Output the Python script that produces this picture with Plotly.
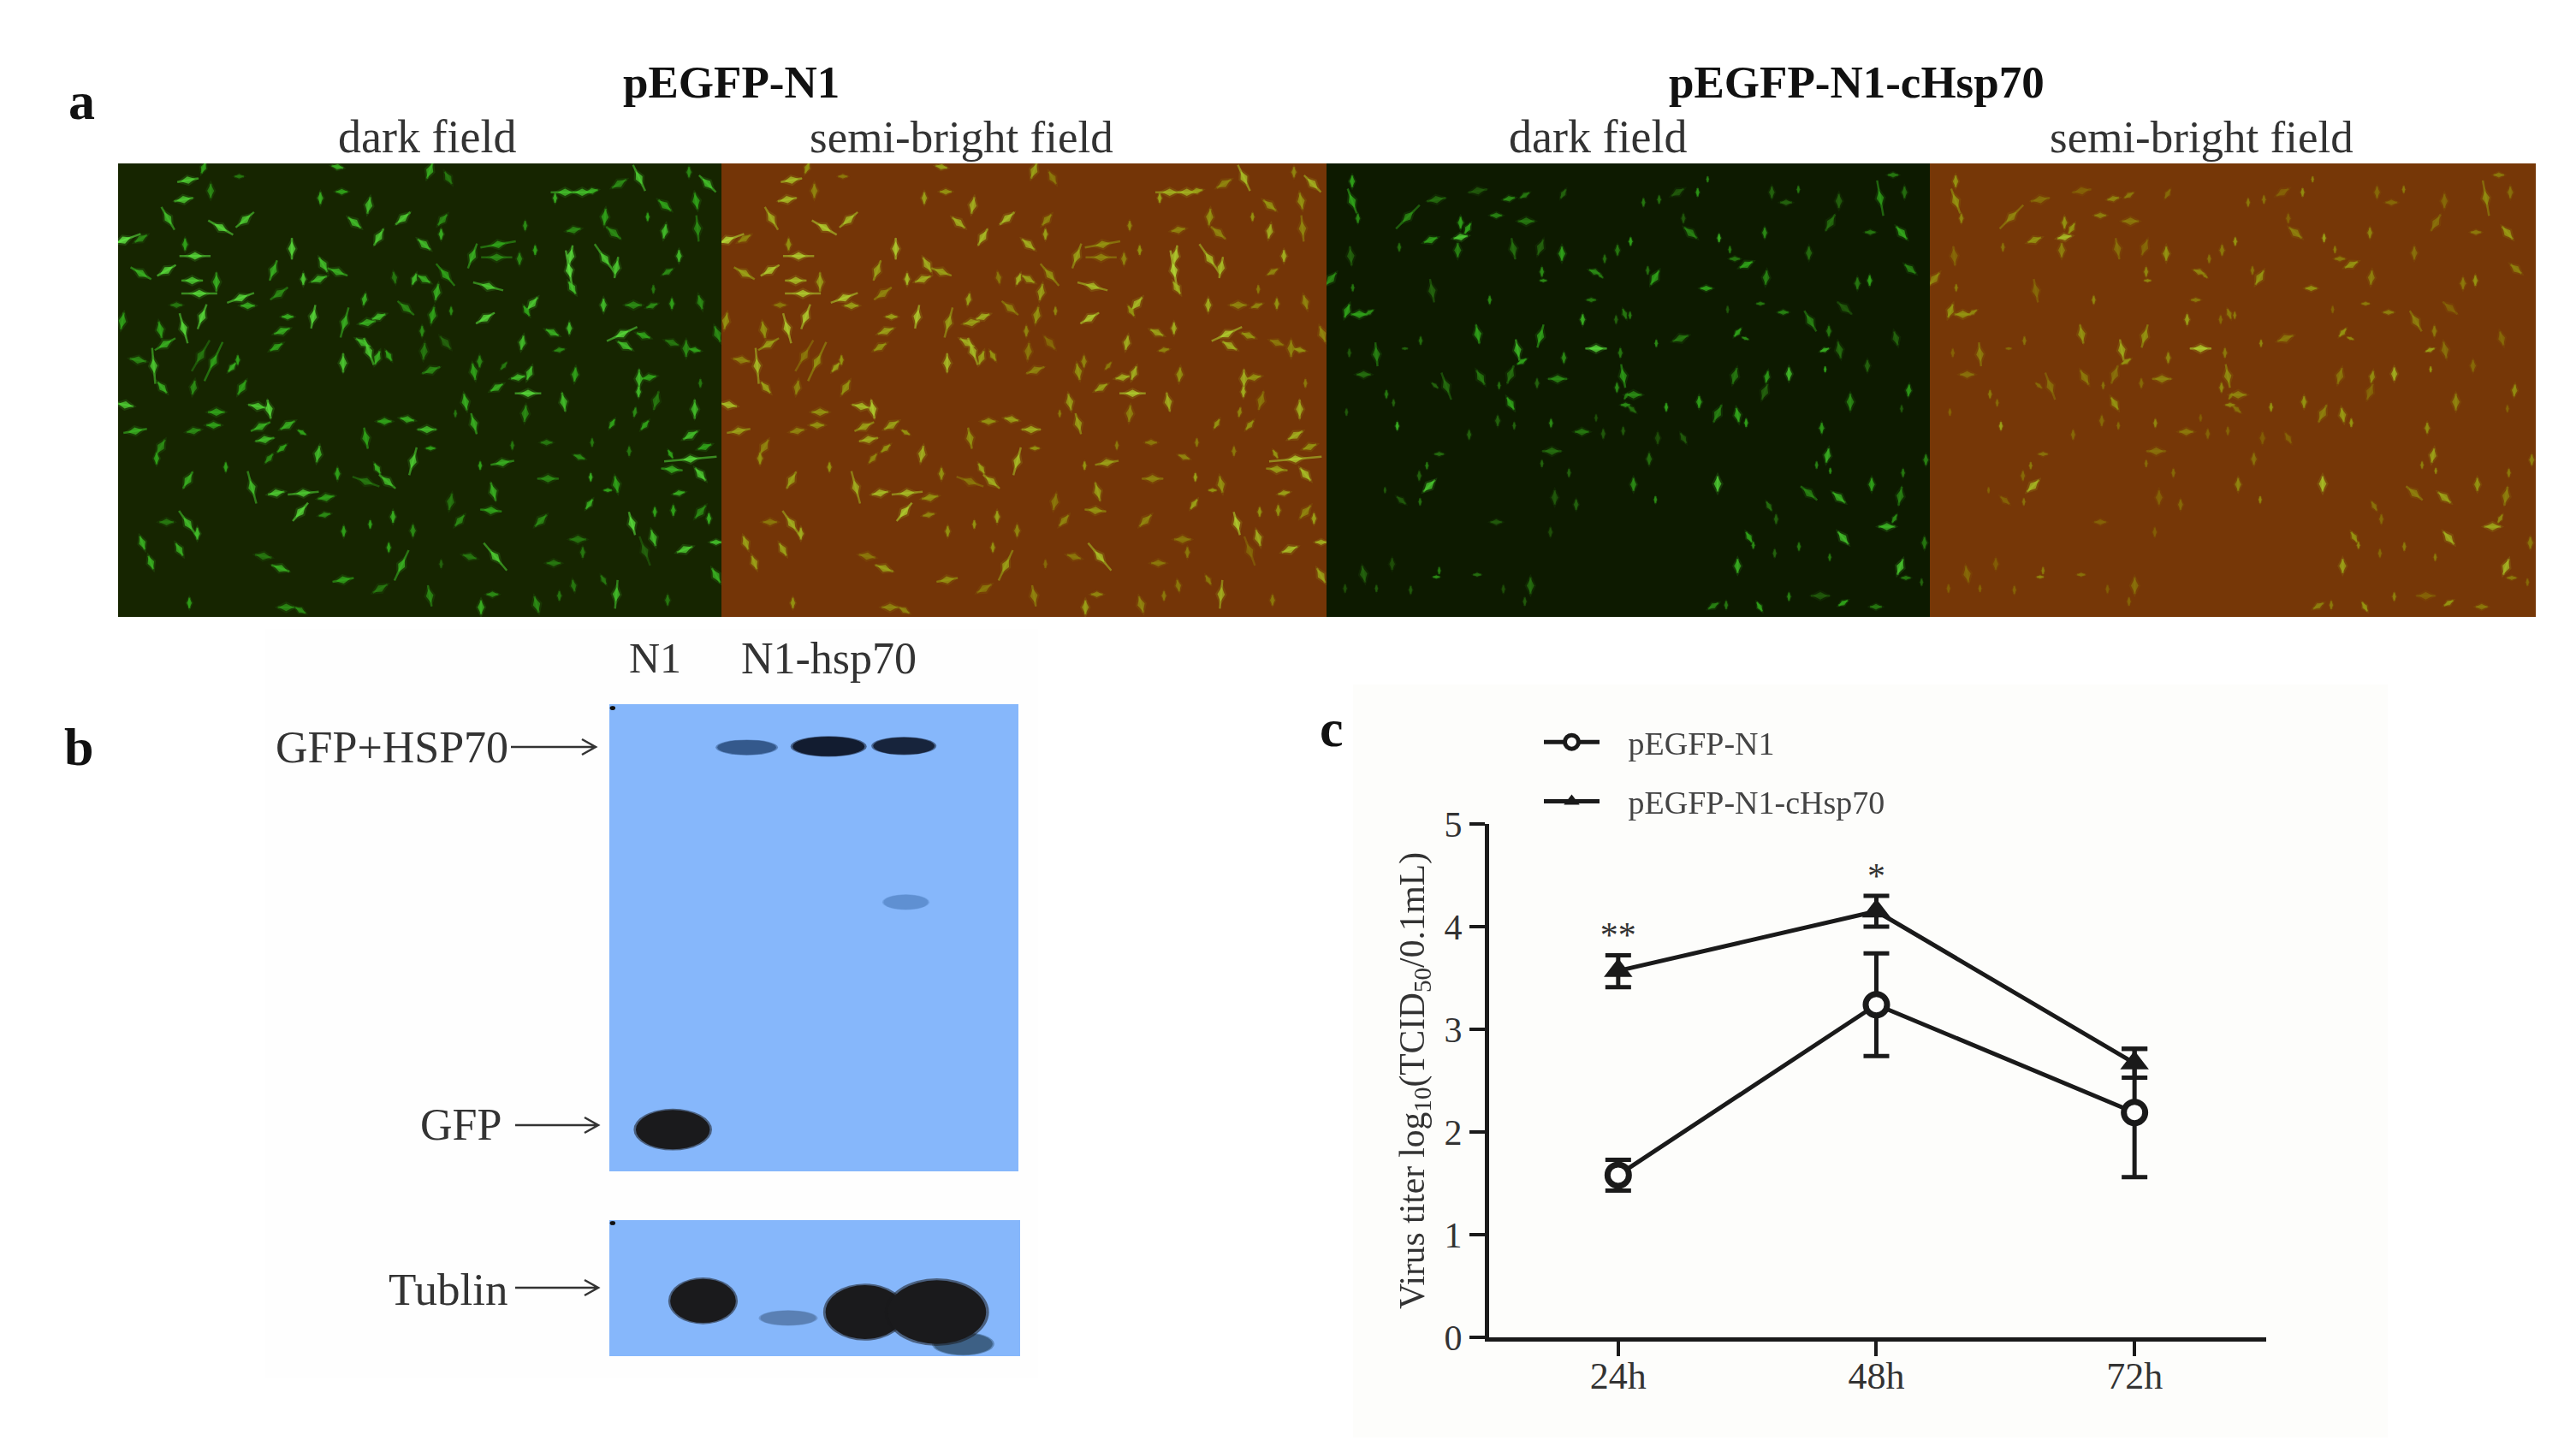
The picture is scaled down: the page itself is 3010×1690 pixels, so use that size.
import plotly.graph_objects as go

W = 3010
H = 1690

# panel a: cells (same cells in the semi-bright one)
n1_x = [245,230,325,175,360,445,20,80,270,235,170,80,260,345,285,430,455,205,15,295,
        230,148,165,125,155,70,290,335,400,420,435,265,25,60,135,150,490,530,345,335,
        265,515,500,595,645,575,530,378,245,470,555,650,640,730,725,702,770,910,945,870,
        1035,965,885,792,950,1035,245,278,85,215,115,170,510,570,790,995,250,920,590,640,
        610,545,650,705,720,770,565,595,575,685,795,875,915,860,880,910,950,790,555,710,
        785,830,880,915,1000,770,1040,865,1010,970,935,1015,870,300,425,
        1094,1159,1074,1139,1134,1074,1149,1244,1334,1329,1409,1464,1429,1299,1119,1104,1289,1169,1454,1434,
        1067,1074,1149,1099,1269,1249,1354,1329,1404,1444,1439,1419,1524,1584,1549,1604,1564,1429,1219,1249,
        1184,1084,1097,1384,1504,1349,1271,1619,1664,1794,1509,1659,1749,1719,1654,1317,1309,1199,1167,1484,
        1804,1879,1849,1989,2099,2099,1324,1234,1134,1529,1614,1631,1749,1599,1704,1094,1314,1274,1469,1549,
        1929,1569,1629,1664,1534,1829,1759,2069,2004,1919,1859,1709,1739,1599,1919,2029,2034,1584,1589,1594,
        1709,1749,1969,1929,1879,1704,1809,1874,1944,2044,1769,1779,1844,1944,2024,1994,2104,1829,1864,1827,
        2044,1889,2024,2009,1814,1849,1734,2059,1939,2009,1944,2044,1969,1884,1949,2074,2044]
n1_y = [58,125,95,190,222,195,265,260,320,280,370,380,405,410,450,465,492,490,545,530,
        570,575,625,700,775,680,665,685,705,680,775,775,835,925,1020,980,840,850,860,905,
        925,955,910,905,930,985,1020,1050,1095,1120,1140,1140,1205,1155,1215,1005,1073,1055,1100,1100,
        1030,1222,1248,1272,1328,1270,1245,1280,1312,1335,1380,1240,1358,1400,1440,1390,1520,1470,1535,1545,
        295,370,400,400,350,375,450,530,580,530,550,550,530,620,650,672,665,690,635,120,
        98,205,145,255,190,12,400,470,500,395,892,885,950,15,45,
        25,50,280,195,245,400,385,320,280,325,330,300,215,425,445,525,535,510,485,510,
        580,650,620,715,685,720,700,775,740,725,795,620,585,570,645,730,825,865,825,900,
        865,920,985,975,965,1035,1045,1015,965,995,1090,1085,1110,1130,1178,1135,1200,1235,1170,1235,
        1245,1295,1340,1335,1310,1425,1360,1360,1385,1382,1300,1345,1490,1460,1440,1495,1490,1535,1525,1495,
        1510,100,100,95,120,50,70,70,30,145,185,185,240,230,235,130,225,370,320,430,
        330,360,320,375,435,490,490,492,485,480,590,630,595,620,645,640,590,745,740,790,
        760,820,850,940,860,905,900,980,1005,1022,1058,1075,1140,1205,1200,1228,1205]
n1_angle = [80,80,0,150,120,50,70,60,90,0,60,120,90,0,90,70,90,90,10,20,
            165,170,60,175,140,100,30,25,40,0,30,10,100,80,0,30,100,170,90,90,
            80,80,65,60,120,50,40,0,30,165,80,85,40,80,80,10,0,150,130,110,
            15,0,0,0,0,0,145,0,160,150,160,90,100,110,80,25,0,60,90,120,
            0,20,0,70,150,110,55,90,70,10,15,80,70,120,160,20,150,0,60,0,
            90,130,10,30,50,100,20,10,130,170,90,100,170,20,90,
            20,150,130,40,0,120,140,20,80,90,0,0,0,105,10,10,60,0,40,150,
            0,5,140,70,0,170,40,60,80,20,90,10,115,0,80,5,170,5,170,165,
            0,90,90,0,90,80,0,110,0,0,90,0,170,90,35,165,95,40,10,45,
            165,165,160,70,90,150,140,105,0,90,90,0,5,170,150,170,90,0,165,0,
            0,90,90,80,0,155,60,135,0,130,0,5,130,80,10,170,175,170,10,150,
            145,10,0,60,0,0,90,70,0,165,65,120,110,110,100,0,160,0,80,0,
            0,15,0,60,10,40,30,70,150,85,95,140,80,0,0,0,40]
n1_len = [18,16,12,22,24,20,30,12,26,10,18,20,18,16,30,24,12,10,14,22,
          26,14,20,30,12,14,30,36,10,8,14,12,14,20,10,14,16,16,14,12,
          12,16,18,14,8,10,10,8,16,28,14,26,20,14,10,14,10,10,18,24,
          24,10,7,9,8,10,26,10,12,12,12,12,14,16,18,28,9,14,14,10,
          18,18,10,14,14,18,18,10,14,20,26,14,12,14,24,12,10,16,12,10,
          10,14,14,16,16,10,10,10,18,10,12,12,18,10,8,
          14,12,14,12,9,12,24,22,30,26,10,8,8,26,14,14,18,7,14,10,
          9,14,14,16,10,14,8,12,12,12,22,12,12,10,9,12,16,14,14,18,
          6,16,8,7,10,20,7,10,7,8,18,7,14,7,10,16,18,12,14,14,
          20,14,26,14,10,14,30,12,7,12,14,9,24,10,9,18,10,12,14,8,
          9,24,16,10,8,24,14,20,9,14,7,14,16,12,12,14,22,34,18,12,
          30,18,10,10,7,11,14,10,9,12,28,14,12,12,10,14,14,16,12,9,
          7,16,16,14,8,10,9,12,8,44,18,14,10,8,9,9,14]
n1_level = [.8,.8,.4,.7,.9,.8,1,.4,.9,.5,.9,.6,.8,.6,.9,.9,.6,.3,.5,.9,
            .9,.5,.6,.8,.6,.4,.3,.5,.6,.5,.5,.4,.8,.6,.5,.4,.8,.9,.5,.5,
            .4,.7,.6,.6,.5,.5,.4,.5,.6,.7,.8,.8,.9,.5,.4,.7,.5,.6,.7,.3,
            .8,.6,.5,.5,.5,.4,.7,.7,.6,.6,.6,.3,.3,.6,.5,.6,.5,.3,.4,.4,
            .9,.6,.8,.7,.7,.6,.4,.6,.6,.9,.6,.6,.7,.7,.8,.6,.5,.8,.5,.6,
            .5,.7,.7,.8,.8,.6,.7,.6,.4,.3,.5,.6,.5,.5,.3,
            .6,.3,.7,.4,.6,.6,.5,.6,.5,.4,.4,.5,.4,.8,.6,.5,.9,.4,.8,.5,
            .4,.3,.2,.4,.4,.5,.3,.6,.7,.7,.9,.7,.6,.7,.4,.5,.7,.4,.6,.6,
            .3,.7,.5,.3,.3,.6,.5,.4,.3,.3,.4,.6,.5,.5,.6,.6,.5,.4,.3,.4,
            .9,.7,.2,.8,.7,.6,.8,.3,.2,.3,.3,.3,.7,.3,.3,.4,.4,.6,.4,.3,
            .3,.7,.7,.6,.6,.8,.4,.7,.4,.5,.5,.5,.4,.4,.7,.5,.4,1,.9,.7,
            .8,.8,.7,.4,.3,.7,.4,.4,.5,.4,.9,.7,.5,.3,.5,.4,.4,.7,.5,.7,
            .3,.3,.7,.7,.4,.5,.5,.5,.5,.9,.6,.8,.6,.5,.5,.6,.4]

# same again for the pEGFP-N1-cHsp70 photos, fewer and dimmer cells
hsp_x = [90,90,110,285,385,470,495,470,460,365,255,595,700,640,695,530,655,750,825,755,
         760,830,1020,975,940,960,85,15,92,370,572,928,72,115,150,898,1045,1015,530,750,
         670,685,645,945,1030,832,175,330,275,80,130,810,1040,1018,540,420,380,605,738,1048,
         1050,210,235,645,600,658,787,248,70,895,970,1040,500,945,790,395,755,352,360,325,
         850,205,262,328,800,875,595,785,385,395,130,230,528,715,620,295,175,695,65,
         1301,1336,1231,1166,1111,1066,1276,1376,1251,1414,1431,1471,1536,1541,1561,1654,1611,1691,1766,1796,
         1941,1986,2026,2016,1906,2046,1904,1861,1151,1126,1331,1406,1521,1601,1696,1761,1816,1064,1156,1241,
         1441,1468,1746,1798,1996,1896,1748,1621,1544,1431,1536,2041,1076,1191,1071,1306,1371,1441,1471,1836,
         1736,2016,1251,1161,1131,1756,1718,1766,2021,2101,1371,1076,1911,1691,1796,2011,1551,1153,1576,1964,
         1991,1811,1481,1496,1656,1571,1764,1441,2011,2096,2031,2086,1621,1518,1401,1356,1811,1926,1731]
hsp_y = [62,130,190,185,125,205,225,255,300,265,290,180,200,122,110,95,295,290,312,375,
         405,105,300,330,375,388,320,400,430,440,472,472,510,522,515,540,520,540,590,597,
         645,685,730,640,655,672,660,613,640,655,730,745,735,775,740,770,768,768,760,835,
         805,798,828,830,890,907,898,908,860,928,935,925,938,880,995,1005,1038,1045,1115,1080,
         1070,1130,1165,1170,1155,1180,1240,1275,1430,1408,1420,1385,1422,1460,1472,1475,1470,1515,1470,
         100,55,100,125,135,270,240,258,190,298,330,350,240,395,100,90,135,310,205,130,
         120,40,100,240,238,365,405,415,395,370,432,505,485,515,545,580,500,525,622,605,
         585,605,645,645,605,700,712,728,738,735,790,785,800,843,850,825,865,870,897,825,
         915,848,950,950,1022,1010,1043,1063,1070,1025,1108,1110,1110,1140,1155,1150,1185,1163,1230,1256,
         1228,1295,1292,1320,1325,1348,1362,1392,1395,1312,1433,1448,1498,1533,1527,1530,1520,1533,1495]
hsp_angle = [0,160,0,45,80,0,30,80,0,70,0,90,90,80,60,80,170,20,0,0,
             90,30,0,0,110,130,175,40,0,170,0,90,20,90,60,0,160,0,170,15,
             170,60,20,90,0,0,175,0,90,0,90,90,170,0,150,160,130,0,0,90,
             30,0,0,150,0,0,0,0,0,90,0,0,0,0,90,90,0,0,45,0,
             0,0,130,0,0,0,90,0,90,0,170,0,90,0,0,0,0,0,0,
             0,0,60,0,0,0,130,0,0,0,90,65,0,5,0,0,90,0,30,0,
             170,90,0,140,90,130,0,0,30,0,90,0,90,90,150,0,130,0,0,70,
             40,110,70,170,165,0,0,0,10,15,20,5,90,0,130,0,25,170,0,0,
             0,0,150,0,0,10,0,0,0,0,0,0,0,130,130,10,150,0,0,90,
             30,140,150,0,0,0,0,0,20,0,90,0,0,150,0,60,60,90,90]
hsp_len = [10,22,8,28,16,10,10,12,12,12,7,10,14,10,9,16,18,14,12,8,
           6,9,9,7,10,6,16,14,6,20,7,8,12,14,8,9,9,7,16,20,
           18,9,16,18,8,9,20,7,5,7,12,16,20,8,14,24,7,6,8,8,
           6,7,6,12,9,6,7,7,6,12,8,7,8,6,16,8,6,6,14,8,
           7,5,10,6,12,9,10,8,6,6,14,10,7,14,7,7,6,7,7,
           7,5,12,7,7,7,14,7,8,6,9,12,9,12,10,6,10,11,16,12,
           30,9,10,14,9,12,9,10,14,7,10,6,7,9,20,9,16,6,6,14,
           9,6,8,14,12,10,5,11,10,14,14,10,14,7,9,10,16,12,7,14,
           9,6,10,10,10,12,6,5,7,9,13,11,11,18,14,16,9,6,8,14,
           8,14,10,6,7,7,6,12,14,10,8,6,7,9,7,10,9,10,16]
hsp_level = [.5,.5,.4,.4,.25,.5,.5,.8,.35,.5,.25,.35,.3,.4,.3,.15,.25,.2,.5,.4,
             .4,.2,.3,.25,.4,.3,.2,.4,.3,.2,.4,.3,.5,.5,.4,.6,.3,.2,.5,.5,
             .65,.5,.25,.9,.3,.4,.35,.25,.2,.15,.25,.4,.45,.4,.3,.25,.2,.25,.2,.4,
             .3,.3,.2,.5,.2,.2,.4,.6,.15,.3,.15,.15,.2,.1,.25,.25,.2,.3,.75,.2,
             .2,.15,.15,.25,.15,.2,.15,.1,.4,.3,.2,.1,.25,.25,.1,.15,.15,.15,.1,
             .45,.35,.15,.25,.3,.5,.35,.6,.15,.3,.3,.5,.4,.35,.2,.3,.2,.25,.25,.2,
             .45,.3,.25,.55,.3,.35,.5,.3,.5,.25,.5,.15,.3,.35,.35,.3,.15,.3,.4,.3,
             .5,.4,.6,.25,.2,.2,.5,.7,.45,.3,.2,.45,.4,.5,.25,.5,.35,.55,.5,.4,
             .45,.15,.15,.1,.25,.6,.35,.4,.3,.35,.8,.4,.5,.35,.6,.35,.25,.4,.2,.65,
             .4,.7,.5,.4,.3,.2,.3,.6,.75,.3,.3,.2,.35,.5,.3,.35,.5,.3,.15]

# panel b: western blot bands
upper_cx = [1075,1200,1315,1318,962,870]
upper_cy = [250,248,247,565,1028,170]
upper_w = [90,110,94,68,113,8]
upper_h = [30,40,35,30,80,8]
upper_color = ["#34598c","#121c30","#17243c","#5f90d2","#1a1a1c","#101010"]

lower_cx = [1405,1138,1008,1255,1365,870]
lower_cy = [1465,1412,1377,1400,1400,1218]
lower_w = [90,85,100,120,150,8]
lower_h = [45,30,90,110,130,8]
lower_color = ["#3d6085","#5a80b4","#1a1a1c","#1a1a1c","#1a1a1c","#101010"]

# panel c
times = ["24h", "48h", "72h"]
titer_n1 = [1.58, 3.24, 2.19]
n1_up = [0.15, 0.50, 0.62]
n1_down = [0.15, 0.50, 0.63]
titer_hsp = [3.57, 4.15, 2.67]
hsp_up = [0.15, 0.15, 0.14]
hsp_down = [0.16, 0.15, 0.14]
star_labels = ["**", "*"]
star_times = ["24h", "48h"]
star_heights = [3.71, 4.29]


def dom_x(left, right):
    return [left / W, right / W]


def dom_y(top, bottom):
    return [1 - bottom / H, 1 - top / H]


def rect(left, top, right, bottom, color):
    return dict(type="rect", xref="paper", yref="paper", layer="below",
                x0=left / W, x1=right / W, y0=1 - bottom / H, y1=1 - top / H,
                fillcolor=color, line_width=0)


def note(text, x, y, size, color="#333333", bold=False, anchor="center"):
    if bold:
        text = "<b>" + text + "</b>"
    return dict(text=text, x=x / W, y=1 - y / H, xref="paper", yref="paper",
                showarrow=False, xanchor=anchor, yanchor="middle",
                font=dict(size=size, color=color))


def arrow(x_from, x_to, y):
    # thin line with an open head
    tail = x_from / W
    tip = x_to / W
    back = (x_to - 16) / W
    mid = 1 - y / H
    up = 1 - (y - 9) / H
    down = 1 - (y + 9) / H
    path = f"M {tail} {mid} L {tip} {mid} M {back} {up} L {tip} {mid} L {back} {down}"
    return dict(type="path", xref="paper", yref="paper", path=path,
                line=dict(color="#333333", width=2.5))


def add_cells(fig, axis, xs, ys, angles, lens, levels, scale):
    # thin tail along the whole cell, then a tapered body with a faint glow around it
    fig.add_trace(go.Scatter(
        x=xs, y=ys, mode="markers", xaxis="x" + axis, yaxis="y" + axis,
        showlegend=False, hoverinfo="skip", opacity=0.75,
        marker=dict(symbol="line-ns", angle=angles, size=lens,
                    line=dict(color=levels, colorscale=scale, cmin=0, cmax=1, width=2.5))))
    for factor, alpha in [(1.5, 0.22), (0.95, 1.0)]:
        fig.add_trace(go.Scatter(
            x=xs, y=ys, mode="markers", xaxis="x" + axis, yaxis="y" + axis,
            showlegend=False, hoverinfo="skip", opacity=alpha,
            marker=dict(symbol="diamond-tall", angle=angles,
                        size=[min(v, 13) * factor for v in lens], color=levels,
                        colorscale=scale, cmin=0, cmax=1, line_width=0)))


fig = go.Figure()

green_scale = [[0, "#1d3f06"], [0.5, "#33b01c"], [1, "#66f548"]]
yellow_scale = [[0, "#7f5203"], [0.5, "#99a012"], [1, "#b9e63a"]]

add_cells(fig, "1", n1_x, n1_y, n1_angle, n1_len, n1_level, green_scale)
add_cells(fig, "2", n1_x, n1_y, n1_angle, n1_len, n1_level, yellow_scale)
add_cells(fig, "3", hsp_x, hsp_y, hsp_angle, hsp_len, hsp_level, green_scale)
add_cells(fig, "4", hsp_x, hsp_y, hsp_angle, hsp_len, hsp_level, yellow_scale)

fig.add_trace(go.Scatter(
    x=times, y=titer_n1, name="\u00a0\u00a0\u00a0pEGFP-N1", mode="lines+markers",
    xaxis="x7", yaxis="y7", legendgroup="n1",
    line=dict(color="#1a1a1a", width=5),
    marker=dict(symbol="circle", size=25, color="#fdfdfc", line=dict(color="#1a1a1a", width=7)),
    error_y=dict(type="data", symmetric=False, array=n1_up, arrayminus=n1_down,
                 color="#1a1a1a", thickness=5, width=15)))
fig.add_trace(go.Scatter(
    x=times, y=titer_hsp, name="\u00a0\u00a0\u00a0pEGFP-N1-cHsp70", mode="lines+markers",
    xaxis="x7", yaxis="y7", legendgroup="hsp",
    line=dict(color="#1a1a1a", width=5),
    marker=dict(symbol="triangle-up", size=29, color="#1a1a1a"),
    error_y=dict(type="data", symmetric=False, array=hsp_up, arrayminus=hsp_down,
                 color="#1a1a1a", thickness=5, width=15)))
fig.add_trace(go.Scatter(
    x=star_times, y=star_heights, text=star_labels, mode="text", xaxis="x7", yaxis="y7",
    showlegend=False, hoverinfo="skip", textposition="top center",
    textfont=dict(size=42, color="#333333")))

shapes = [
    rect(310, 735, 1213, 1610, "#fefefe"),
    rect(1581, 800, 2790, 1680, "#fdfdfb"),
    rect(138, 191, 843, 721, "#162500"),
    rect(843, 191, 1550, 721, "#743507"),
    rect(1550, 191, 2255, 721, "#0d1a00"),
    rect(2255, 191, 2963, 721, "#763707"),
    rect(712, 823, 1190, 1369, "#86b7fb"),
    rect(712, 1426, 1192, 1585, "#86b7fb"),
    arrow(597, 696, 873),
    arrow(602, 699, 1315),
    arrow(602, 699, 1505),
]
# bands get a paler, slightly larger copy underneath so their edges look blurred
for axis, cxs, cys, ws, hs, colors in [
    ("5", upper_cx, upper_cy, upper_w, upper_h, upper_color),
    ("6", lower_cx, lower_cy, lower_w, lower_h, lower_color),
]:
    for cx, cy, w, h, color in zip(cxs, cys, ws, hs, colors):
        for grow, alpha in [(1.06, 0.55), (1.0, 1.0)]:
            shapes.append(dict(type="circle", xref="x" + axis, yref="y" + axis,
                               x0=cx - w * grow / 2, x1=cx + w * grow / 2,
                               y0=cy - h * grow / 2, y1=cy + h * grow / 2,
                               fillcolor=color, opacity=alpha, line_width=0))

annotations = [
    note("a", 96, 118, 62, "#111111", True),
    note("b", 92, 873, 62, "#111111", True),
    note("c", 1556, 851, 62, "#111111", True),
    note("pEGFP-N1", 854, 96, 53, "#111111", True),
    note("pEGFP-N1-cHsp70", 2169, 96, 53, "#111111", True),
    note("dark field", 499, 160, 54),
    note("semi-bright field", 1123, 160, 53),
    note("dark field", 1867, 160, 54),
    note("semi-bright field", 2572, 160, 53),
    note("N1", 765, 769, 50),
    note("N1-hsp70", 968, 769, 52),
    note("GFP+HSP70", 596, 873, 52, anchor="right"),
    note("GFP", 588, 1314, 52, anchor="right"),
    note("Tublin", 595, 1507, 53, anchor="right"),
]

hidden = dict(visible=False, fixedrange=True)
fig.update_layout(
    template="none",
    width=W, height=H, autosize=False, margin=dict(l=0, r=0, t=0, b=0, pad=0),
    paper_bgcolor="white", plot_bgcolor="rgba(0,0,0,0)",
    font=dict(family="Liberation Serif", color="#333333"),
    shapes=shapes, annotations=annotations,
    xaxis=dict(hidden, domain=dom_x(138, 843), range=[0, 2118]),
    yaxis=dict(hidden, domain=dom_y(191, 721), range=[1568, 0]),
    xaxis2=dict(hidden, domain=dom_x(843, 1550), range=[0, 2118]),
    yaxis2=dict(hidden, domain=dom_y(191, 721), range=[1568, 0]),
    xaxis3=dict(hidden, domain=dom_x(1550, 2255), range=[0, 2115]),
    yaxis3=dict(hidden, domain=dom_y(191, 721), range=[1568, 0]),
    xaxis4=dict(hidden, domain=dom_x(2255, 2963), range=[0, 2115]),
    yaxis4=dict(hidden, domain=dom_y(191, 721), range=[1568, 0]),
    xaxis5=dict(hidden, domain=dom_x(712, 1190), range=[865, 1490]),
    yaxis5=dict(hidden, domain=dom_y(823, 1369), range=[1113, 162]),
    xaxis6=dict(hidden, domain=dom_x(712, 1192), range=[865, 1492]),
    yaxis6=dict(hidden, domain=dom_y(1426, 1585), range=[1490, 1212]),
    xaxis7=dict(domain=dom_x(1740, 2648), type="category", categoryorder="array",
                categoryarray=times, range=[-0.5, 2.51], showgrid=False, zeroline=False,
                showline=True, linewidth=5, linecolor="#1a1a1a", ticks="outside",
                ticklen=17, tickwidth=4, tickcolor="#1a1a1a", anchor="y7",
                ticklabelstandoff=-15,
                tickfont=dict(size=44, color="#333333")),
    yaxis7=dict(domain=dom_y(963, 1563), range=[0, 5], tickvals=[0, 1, 2, 3, 4, 5],
                showgrid=False, zeroline=False, showline=True, linewidth=5,
                linecolor="#1a1a1a", ticks="outside", ticklen=18, tickwidth=4,
                tickcolor="#1a1a1a", anchor="x7",
                tickfont=dict(size=42, color="#333333"),
                title=dict(text="Virus titer log<sub>10</sub>(TCID<sub>50</sub>/0.1mL)",
                           font=dict(size=41.5, color="#333333"), standoff=12)),
    legend=dict(x=1799 / W, y=1 - 836 / H, xanchor="left", yanchor="top",
                bgcolor="rgba(0,0,0,0)", itemwidth=65, tracegroupgap=17,
                font=dict(size=38, color="#444444")),
)

fig.write_html("out.html", config=dict(displayModeBar=False),
               post_script="document.body.style.margin='0';")
